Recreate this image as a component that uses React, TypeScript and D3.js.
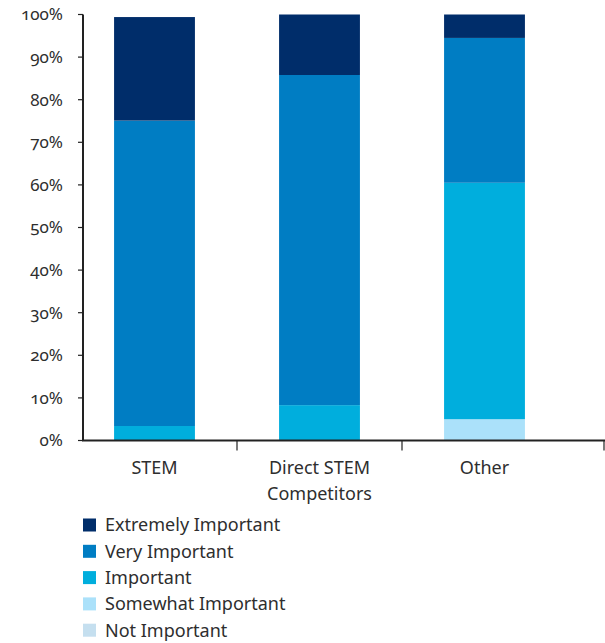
import React, { useEffect, useRef } from 'react';
import * as d3 from 'd3';

const categories = ['STEM', 'Direct STEM Competitors', 'Other'];
const categoryLines = [['STEM'], ['Direct STEM', 'Competitors'], ['Other']];
const seriesNames = ['Not Important', 'Somewhat Important', 'Important', 'Very Important', 'Extremely Important'];
const notImportant = [0, 0, 0];
const somewhatImportant = [0, 0, 5.0];
const important = [3.4, 8.3, 55.5];
const veryImportant = [71.7, 77.5, 34.0];
const extremelyImportant = [24.3, 14.2, 5.5];
const seriesColors = ['#c5dfef', '#abe1fa', '#00aedd', '#007dc3', '#002d6a'];
const yTicks = [0, 10, 20, 30, 40, 50, 60, 70, 80, 90, 100];

const W = 605;
const H = 643;
const FONT = "'Noto Sans', sans-serif";

export default function App() {
  const svgRef = useRef<SVGSVGElement>(null);

  useEffect(() => {
    if (!svgRef.current) return;
    const svg = d3.select(svgRef.current);
    svg.selectAll('*').remove();

    const axisLeft = 83;
    const axisRight = 604;
    const y0 = 440.5;
    const y100 = 14.5;

    const x = d3.scaleBand<string>().domain(categories).range([72, 567]).paddingInner(0.51).paddingOuter(0.255);
    const y = d3.scaleLinear().domain([0, 100]).range([y0, y100]);

    const rows = categories.map((c, i) => ({
      cat: c,
      'Not Important': notImportant[i],
      'Somewhat Important': somewhatImportant[i],
      'Important': important[i],
      'Very Important': veryImportant[i],
      'Extremely Important': extremelyImportant[i],
    }));
    const layers = d3.stack<any>().keys(seriesNames)(rows);
    const color = d3.scaleOrdinal<string, string>().domain(seriesNames).range(seriesColors);

    // bars
    svg.append('g')
      .selectAll('g')
      .data(layers)
      .join('g')
      .attr('fill', d => color(d.key))
      .selectAll('rect')
      .data(d => d)
      .join('rect')
      .attr('x', d => x(d.data.cat)!)
      .attr('width', x.bandwidth())
      .attr('y', d => y(d[1]))
      .attr('height', d => Math.max(0, y(d[0]) - y(d[1])));

    const ink = '#222';
    const textColor = '#2e2e2e';

    // y axis
    svg.append('line')
      .attr('x1', axisLeft).attr('x2', axisLeft)
      .attr('y1', y(100)).attr('y2', y(0))
      .attr('stroke', ink).attr('stroke-width', 2);

    const yt = svg.append('g');
    yt.selectAll('line').data(yTicks).join('line')
      .attr('x1', axisLeft - 5).attr('x2', axisLeft)
      .attr('y1', d => y(d)).attr('y2', d => y(d))
      .attr('stroke', ink).attr('stroke-width', 1.2);
    yt.selectAll('text').data(yTicks).join('text')
      .attr('x', 63)
      .attr('y', d => y(d))
      .attr('dy', '0.35em')
      .attr('text-anchor', 'end')
      .attr('font-family', FONT)
      .attr('font-size', 17)
      .attr('fill', textColor)
      .style('font-variant-numeric', 'oldstyle-nums')
      .text(d => `${d}%`);

    // x axis
    svg.append('line')
      .attr('x1', axisLeft - 1).attr('x2', axisRight + 1)
      .attr('y1', y(0)).attr('y2', y(0))
      .attr('stroke', ink).attr('stroke-width', 2);

    const gap = (x.step() - x.bandwidth()) / 2;
    const sepX = [x(categories[0])! + x.bandwidth() + gap, x(categories[1])! + x.bandwidth() + gap, axisRight];
    svg.append('g').selectAll('line').data(sepX).join('line')
      .attr('x1', d => d).attr('x2', d => d)
      .attr('y1', y(0)).attr('y2', y(0) + 10)
      .attr('stroke', ink).attr('stroke-width', 1.2);

    const cl = svg.append('g');
    categories.forEach((c, i) => {
      const cx = x(c)! + x.bandwidth() / 2;
      const t = cl.append('text')
        .attr('x', cx)
        .attr('y', 474)
        .attr('text-anchor', 'middle')
        .attr('font-family', FONT)
        .attr('font-size', 18)
        .attr('fill', textColor);
      categoryLines[i].forEach((line, j) => {
        t.append('tspan').attr('x', cx).attr('dy', j === 0 ? 0 : 26).text(line);
      });
    });

    // legend
    const legendOrder = [...seriesNames].reverse();
    const lg = svg.append('g').attr('transform', 'translate(83,525)');
    const item = lg.selectAll('g').data(legendOrder).join('g')
      .attr('transform', (_, i) => `translate(0,${i * 26.3})`);
    item.append('rect')
      .attr('x', 0).attr('y', -6.5).attr('width', 13).attr('height', 13)
      .attr('fill', d => color(d));
    item.append('text')
      .attr('x', 22).attr('y', 0).attr('dy', '0.35em')
      .attr('font-family', FONT)
      .attr('font-size', 18)
      .attr('fill', textColor)
      .text(d => d);
  }, []);

  return (
    <div style={{ position: 'absolute', left: 0, top: 0, background: '#fff' }}>
      <svg ref={svgRef} width={W} height={H} />
    </div>
  );
}
